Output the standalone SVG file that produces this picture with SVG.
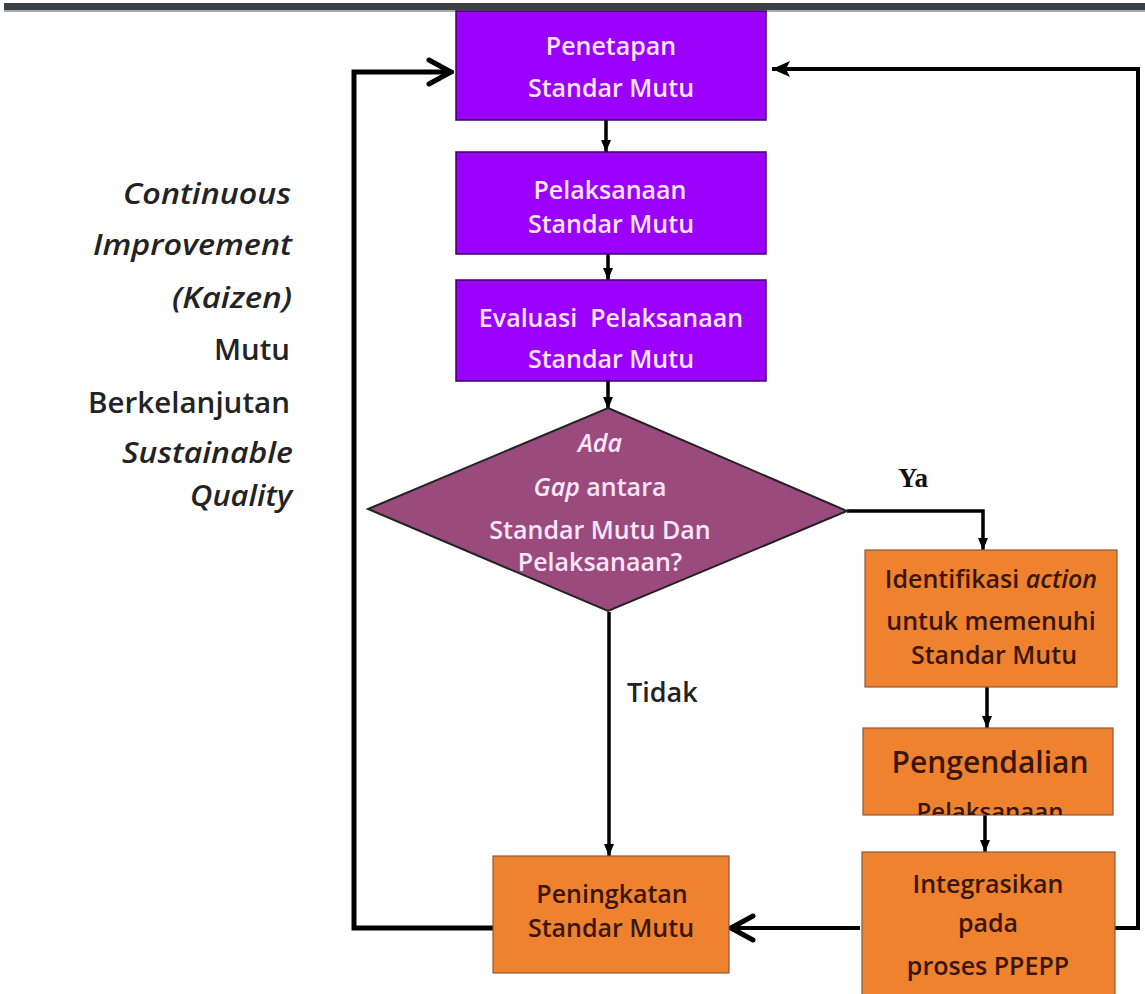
<svg xmlns="http://www.w3.org/2000/svg" width="1145" height="994" viewBox="0 0 1145 994">
<style>
.pbox{fill:#9a00fb;stroke:#3f0063;stroke-width:1.5}
.obox{fill:#ef822f;stroke:#8a5a3a;stroke-width:1.2}
.dia{fill:#9b4a7e;stroke:#222;stroke-width:2}
.pt{font-family:"Open Sans","DejaVu Sans",sans-serif;font-weight:600;font-size:25px;fill:#fbe6fb;text-anchor:middle}
.ot{font-family:"Open Sans","DejaVu Sans",sans-serif;font-weight:600;font-size:25px;fill:#3a1608;text-anchor:middle}
.big{font-size:30px}
.mid{font-size:24px}
.side{font-family:"Open Sans","DejaVu Sans",sans-serif;font-weight:600;font-size:29px;fill:#232323;text-anchor:end}
.it{font-style:italic}
.lbl{font-family:"Open Sans","DejaVu Sans",sans-serif;font-weight:600;font-size:27px;fill:#222;}
.ya{font-family:"Liberation Serif","DejaVu Serif",serif;font-weight:bold;font-size:27px;fill:#111}
.c{fill:none;stroke:#000;stroke-width:3.5}
.loop{fill:none;stroke:#000;stroke-width:5}
.loop2{fill:none;stroke:#000;stroke-width:4}
</style>
<defs>
<marker id="ah" viewBox="0 0 12 10" refX="12" refY="5" markerWidth="12" markerHeight="10" markerUnits="userSpaceOnUse" orient="auto"><path d="M0,0 L12,5 L0,10 z" fill="#000"/></marker>
<marker id="chev" viewBox="0 0 28 30" refX="25" refY="15" markerWidth="28" markerHeight="30" markerUnits="userSpaceOnUse" orient="auto"><path d="M3,3 L25,15 L3,27" fill="none" stroke="#000" stroke-width="5" stroke-linecap="round" stroke-linejoin="miter"/></marker>
<marker id="tri" viewBox="0 0 18 16" refX="18" refY="8" markerWidth="18" markerHeight="16" markerUnits="userSpaceOnUse" orient="auto"><path d="M0,0 L18,8 L0,16 L4,8 z" fill="#000"/></marker>
<clipPath id="clipPeng"><rect x="863" y="728" width="250" height="87"/></clipPath>
</defs>
<rect x="0" y="0" width="1145" height="994" fill="#fff"/>
<g id="topbar">
<rect x="4" y="3" width="1141" height="7" fill="#3c4146"/>
<rect x="4" y="10" width="1141" height="2" fill="#a5aaae"/>
</g>
<g id="connectors">
<path class="loop" d="M493,928 H354 V72 H451" marker-end="url(#chev)"/>
<path class="loop2" d="M1115,928 H1138 V69 H772" marker-end="url(#tri)"/>
<path class="loop2" d="M860,928 H731" marker-end="url(#chev)"/>
<path class="c" d="M606,120 V152" marker-end="url(#ah)"/>
<path class="c" d="M608,254 V280" marker-end="url(#ah)"/>
<path class="c" d="M608,381 V409" marker-end="url(#ah)"/>
<path class="c" d="M847,511 H983 V550" marker-end="url(#ah)"/>
<path class="c" d="M609,612 V856" marker-end="url(#ah)"/>
<path class="c" d="M987,687 V728" marker-end="url(#ah)"/>
<path class="c" d="M985,815 V852" marker-end="url(#ah)"/>
<text class="ya" x="913" y="487" text-anchor="middle">Ya</text>
<text class="lbl" x="627" y="702">Tidak</text>
</g>
<g id="side-text">
<text class="side it" x="291" y="204" textLength="168" lengthAdjust="spacingAndGlyphs">Continuous</text>
<text class="side it" x="292" y="255" textLength="199" lengthAdjust="spacingAndGlyphs">Improvement</text>
<text class="side it" x="292" y="308" textLength="120" lengthAdjust="spacingAndGlyphs">(Kaizen)</text>
<text class="side" x="290" y="360" textLength="76" lengthAdjust="spacingAndGlyphs">Mutu</text>
<text class="side" x="290" y="413" textLength="202" lengthAdjust="spacingAndGlyphs">Berkelanjutan</text>
<text class="side it" x="293" y="463" textLength="171" lengthAdjust="spacingAndGlyphs">Sustainable</text>
<text class="side it" x="292" y="506" textLength="102" lengthAdjust="spacingAndGlyphs">Quality</text>
</g>
<g id="penetapan">
<rect class="pbox" x="456" y="11" width="310" height="109"/>
<text class="pt" x="611" y="55">Penetapan</text>
<text class="pt" x="611" y="97">Standar Mutu</text>
</g>
<g id="pelaksanaan">
<rect class="pbox" x="456" y="152" width="310" height="102"/>
<text class="pt" x="610" y="199">Pelaksanaan</text>
<text class="pt" x="611" y="233">Standar Mutu</text>
</g>
<g id="evaluasi">
<rect class="pbox" x="456" y="280" width="310" height="101"/>
<text class="pt" x="611" y="327" xml:space="preserve">Evaluasi  Pelaksanaan</text>
<text class="pt" x="611" y="368">Standar Mutu</text>
</g>
<g id="gap">
<polygon class="dia" points="608,408 847,511 608,611 368,509"/>
<text class="pt it" x="600" y="452">Ada</text>
<text class="pt" x="600" y="496"><tspan class="it">Gap</tspan> antara</text>
<text class="pt" x="600" y="539">Standar Mutu Dan</text>
<text class="pt" x="600" y="571">Pelaksanaan?</text>
</g>
<g id="identifikasi">
<rect class="obox" x="865" y="550" width="252" height="137"/>
<text class="ot" x="991" y="588">Identifikasi <tspan class="it">action</tspan></text>
<text class="ot" x="991" y="630">untuk memenuhi</text>
<text class="ot" x="994" y="664">Standar Mutu</text>
</g>
<g id="pengendalian">
<rect class="obox" x="863" y="728" width="250" height="87"/>
<g clip-path="url(#clipPeng)">
<text class="ot big" x="990" y="773">Pengendalian</text>
<text class="ot mid" x="990" y="820">Pelaksanaan</text>
</g>
</g>
<g id="integrasikan">
<rect class="obox" x="862" y="852" width="253" height="150"/>
<text class="ot" x="988" y="893">Integrasikan</text>
<text class="ot" x="988" y="932">pada</text>
<text class="ot" x="988" y="975">proses PPEPP</text>
</g>
<g id="peningkatan">
<rect class="obox" x="493" y="856" width="236" height="117"/>
<text class="ot" x="612" y="903">Peningkatan</text>
<text class="ot" x="611" y="937">Standar Mutu</text>
</g>
</svg>
